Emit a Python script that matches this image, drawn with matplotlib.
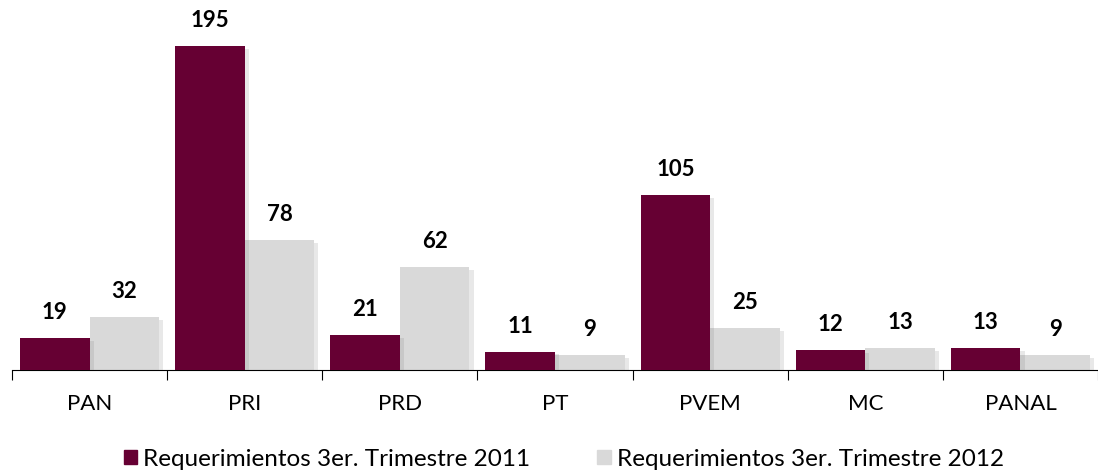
import numpy as np
import matplotlib.pyplot as plt
import matplotlib.patheffects as pe
from matplotlib.patches import Patch

partidos = ['PAN', 'PRI', 'PRD', 'PT', 'PVEM', 'MC', 'PANAL']
req_2011 = [19, 195, 21, 11, 105, 12, 13]
req_2012 = [32, 78, 62, 9, 25, 13, 9]
series_names = ['Requerimientos 3er. Trimestre 2011', 'Requerimientos 3er. Trimestre 2012']
colores = ['#660033', '#D9D9D9']

plt.rcParams['font.family'] = ['Lato', 'DejaVu Sans']

fig = plt.figure(figsize=(10.98, 4.76), dpi=100)
ax = fig.add_axes([12 / 1098, 106 / 476, 1 - 12 / 1098, 370 / 476])

x = np.arange(len(partidos))
w = 0.448
sombra = [pe.SimplePatchShadow(offset=(3, -2), alpha=0.18, shadow_rgbFace='#808080'), pe.Normal()]
b1 = ax.bar(x - w / 2, req_2011, w, color=colores[0], zorder=3)
b2 = ax.bar(x + w / 2, req_2012, w, color=colores[1], zorder=2)
for b in list(b1) + list(b2):
    b.set_path_effects(sombra)

for bars, vals in [(b1, req_2011), (b2, req_2012)]:
    for b, v in zip(bars, vals):
        ax.annotate(str(v), (b.get_x() + b.get_width() / 2, v), xytext=(0, 13.7),
                    textcoords='offset points', ha='center', va='baseline',
                    fontsize=16, fontweight='bold', color='black')

ax.set_xlim(-0.5, len(partidos) - 0.5)
ax.set_ylim(0, 370 / 1.662)
for s in ['top', 'right', 'left']:
    ax.spines[s].set_visible(False)
ax.spines['bottom'].set_color('black')
ax.set_yticks([])
ax.set_xticks(np.arange(len(partidos) + 1) - 0.5)
ax.set_xticklabels([])
ax.tick_params(axis='x', which='major', length=7, direction='out', color='black')
ax.set_xticks(x, minor=True)
ax.set_xticklabels(partidos, minor=True, fontsize=16)
ax.tick_params(axis='x', which='minor', length=0, pad=17)

handles = [Patch(color=c) for c in colores]
fig.legend(handles=handles, labels=series_names, loc='center', bbox_to_anchor=(564 / 1098, 1 - 459 / 476),
           ncol=2, frameon=False, fontsize=17.5, handlelength=0.55, handleheight=0.55,
           handletextpad=0.25, columnspacing=2.75, borderpad=0, borderaxespad=0)

fig.savefig('out.png', dpi=100)
